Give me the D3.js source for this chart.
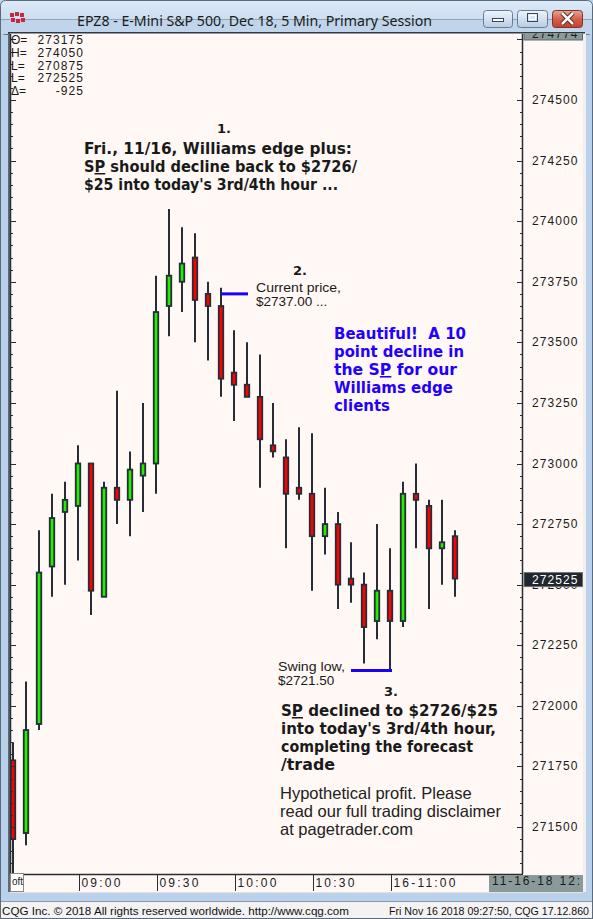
<!DOCTYPE html>
<html><head><meta charset="utf-8">
<script src="https://cdn.jsdelivr.net/npm/d3@7"></script>
<style>html,body{margin:0;padding:0;background:#b9d1ea;}svg{display:block;}</style>
</head><body>
<script>
// ---- data ----
const times = ["08:35","08:40","08:45","08:50","08:55","09:00","09:05","09:10","09:15","09:20","09:25","09:30","09:35","09:40","09:45","09:50","09:55","10:00","10:05","10:10","10:15","10:20","10:25","10:30","10:35","10:40","10:45","10:50","10:55","11:00","11:05","11:10","11:15","11:20","11:25"];
const opens  = [271775,271475,271925,272575,272800,272825,273000,272450,272900,272850,272950,273000,273650,273750,273850,273700,273650,273375,273325,273275,273075,273025,272900,272875,272700,272750,272525,272500,272350,272475,272350,272875,272825,272650,272700];
const highs  = [271850,272100,272725,272875,272925,273075,273000,272925,273300,273050,273250,273775,274050,273975,273950,273750,273725,273550,273500,273450,273250,273100,273150,273125,272900,272800,272675,272550,272750,272650,272925,273000,272850,272850,272725];
const lows   = [271250,271425,271900,272450,272500,272600,272375,272450,272750,272700,272800,272875,273525,273625,273500,273425,273275,273175,273275,272900,273025,272650,272850,272475,272625,272400,272425,272175,272275,272150,272325,272650,272400,272500,272450];
const closes = [271450,271900,272550,272775,272850,273000,272475,272900,272850,272975,273000,273625,273775,273825,273675,273650,273350,273325,273275,273100,273050,272875,272875,272700,272750,272500,272500,272325,272475,272350,272875,272850,272650,272675,272525];
const yTickLabels = [271500,271750,272000,272250,272500,272750,273000,273250,273500,273750,274000,274250,274500];
const xTickTimes  = ["09:00","09:30","10:00","10:30","11:00"];
const xTickLabels = ["09:00","09:30","10:00","10:30","16-11:00"];
const infoLabels = ["O=","H=","L=","L=","\u0394="];
const infoValues = ["273175","274050","270875","272525","-925"];
const lastPrice = 272525, topPrice = "274774";
const currentPrice = 273700, swingLow = 272150;

const W = 593, H = 919;
const svg = d3.select("body").append("svg").attr("width", W).attr("height", H);
const defs = svg.append("defs");

const x = d3.scalePoint().domain(times).range([13, 455]);
const y = d3.scaleLinear().domain([271500, 274500]).range([827, 100]);

const plot = {l: 10, r: 523, t: 34, b: 874};

// ---- window chrome ----
const tg = defs.append("linearGradient").attr("id","tg").attr("x1",0).attr("y1",0).attr("x2",0).attr("y2",1);
tg.append("stop").attr("offset","0").attr("stop-color","#dce9f7");
tg.append("stop").attr("offset","1").attr("stop-color","#c0d5ec");
svg.append("rect").attr("x",0).attr("y",0).attr("width",W).attr("height",H).attr("fill","#b9d1ea");
svg.append("rect").attr("x",0.5).attr("y",0.5).attr("width",W-1).attr("height",34).attr("rx",5).attr("fill","url(#tg)").attr("stroke","#5b6b7c");
svg.append("rect").attr("x",0.5).attr("y",20).attr("width",W-1).attr("height",H-20.5).attr("fill","none").attr("stroke","#5b6b7c");
svg.append("rect").attr("x",1).attr("y",20).attr("width",W-2).attr("height",14).attr("fill","#c0d5ec");

// icon
const icon = svg.append("g").attr("transform","translate(10,12)");
[[0,1],[5,0],[10,1],[1,6],[6,7],[11,6]].forEach(p=>icon.append("rect").attr("x",p[0]).attr("y",p[1]).attr("width",4).attr("height",4).attr("fill","#c8283c"));
svg.append("text").attr("x",77).attr("y",26).attr("font-family","Noto Sans").attr("font-size",15)
  .attr("fill","#1b1b1b").attr("textLength",355).attr("lengthAdjust","spacingAndGlyphs")
  .text("EPZ8 - E-Mini S&P 500, Dec 18, 5 Min, Primary Session");

const bg = defs.append("linearGradient").attr("id","bg").attr("x1",0).attr("y1",0).attr("x2",0).attr("y2",1);
bg.append("stop").attr("offset","0").attr("stop-color","#eef4fb");
bg.append("stop").attr("offset","0.5").attr("stop-color","#d3e1f1");
bg.append("stop").attr("offset","1").attr("stop-color","#b6cbe4");
const cg = defs.append("linearGradient").attr("id","cg").attr("x1",0).attr("y1",0).attr("x2",0).attr("y2",1);
cg.append("stop").attr("offset","0").attr("stop-color","#e9a796");
cg.append("stop").attr("offset","0.5").attr("stop-color","#d6604c");
cg.append("stop").attr("offset","1").attr("stop-color","#c0422e");
svg.append("rect").attr("x",483.5).attr("y",10.5).attr("width",29).attr("height",17).attr("rx",3).attr("fill","url(#bg)").attr("stroke","#6a7c92");
svg.append("rect").attr("x",517.5).attr("y",10.5).attr("width",30).attr("height",17).attr("rx",3).attr("fill","url(#bg)").attr("stroke","#6a7c92");
svg.append("rect").attr("x",552.5).attr("y",10.5).attr("width",30).attr("height",17).attr("rx",3).attr("fill","url(#cg)").attr("stroke","#7e3528");
svg.append("rect").attr("x",492.5).attr("y",18.5).attr("width",11).attr("height",3).attr("fill","#fff").attr("stroke","#3a4656");
svg.append("rect").attr("x",527.5).attr("y",13.5).attr("width",10).attr("height",8).attr("fill","none").attr("stroke","#3a4656").attr("stroke-width",1);
svg.append("rect").attr("x",529.5).attr("y",15.5).attr("width",6).attr("height",4).attr("fill","none").attr("stroke","#fff");
svg.append("path").attr("d","M562,13 L573,24 M573,13 L562,24").attr("stroke","#4a2018").attr("stroke-width",4.5);
svg.append("path").attr("d","M562,13 L573,24 M573,13 L562,24").attr("stroke","#ffffff").attr("stroke-width",2.5);

// panel
svg.append("rect").attr("x",8).attr("y",33).attr("width",577).attr("height",859).attr("fill","#fff8f5");
svg.append("rect").attr("x",583).attr("y",33).attr("width",3).attr("height",859).attr("fill","#f2eeee");
svg.append("rect").attr("x",8).attr("y",33).attr("width",2).attr("height",859).attr("fill","#5f6a75");
svg.append("rect").attr("x",8).attr("y",32).attr("width",577).attr("height",1.5).attr("fill","#2d3945");

// status bar
svg.append("rect").attr("x",1).attr("y",901).attr("width",W-2).attr("height",17).attr("fill","#f3f3f3");
svg.append("line").attr("x1",1).attr("x2",W-1).attr("y1",901.5).attr("y2",901.5).attr("stroke","#8c9aa8");
svg.append("text").attr("x",2).attr("y",915).attr("font-family","Liberation Sans").attr("font-size",11.2).attr("fill","#111")
  .attr("textLength",347).attr("lengthAdjust","spacingAndGlyphs")
  .text("CQG Inc. \u00a9 2018 All rights reserved worldwide. http://www.cqg.com");
svg.append("text").attr("x",389).attr("y",915).attr("font-family","Liberation Sans").attr("font-size",10.8).attr("fill","#111")
  .attr("textLength",200).attr("lengthAdjust","spacingAndGlyphs")
  .text("Fri Nov 16 2018 09:27:50, CQG 17.12.860");

// ---- candles ----
defs.append("clipPath").attr("id","pc").append("rect").attr("x",plot.l+1).attr("y",plot.t).attr("width",plot.r-plot.l-1).attr("height",plot.b-plot.t);
const cs = svg.append("g").attr("clip-path","url(#pc)");
const dark = "#262d36";
const bars = times.map((t,i)=>({t, o:opens[i], h:highs[i], l:lows[i], c:closes[i]}));
cs.selectAll("line.wick").data(bars).enter().append("line")
  .attr("x1",d=>x(d.t)).attr("x2",d=>x(d.t)).attr("y1",d=>y(d.h)).attr("y2",d=>y(d.l))
  .attr("stroke",dark).attr("stroke-width",2);
cs.selectAll("rect.body").data(bars).enter().append("rect")
  .attr("x",d=>x(d.t)-2.25).attr("width",4.5)
  .attr("y",d=>y(Math.max(d.o,d.c))).attr("height",d=>Math.max(1,y(Math.min(d.o,d.c))-y(Math.max(d.o,d.c))))
  .attr("fill",d=>d.c>=d.o?"#22ee00":"#ff0000").attr("stroke",dark).attr("stroke-width",1.8);

// ---- axes ----
const ax = svg.append("g");
ax.append("line").attr("x1",plot.r-0.5).attr("x2",plot.r-0.5).attr("y1",plot.t).attr("y2",plot.b).attr("stroke",dark).attr("stroke-width",1.5);
ax.append("line").attr("x1",plot.l+0.5).attr("x2",plot.l+0.5).attr("y1",plot.t).attr("y2",plot.b).attr("stroke",dark).attr("stroke-width",1.5);
ax.append("line").attr("x1",plot.l).attr("x2",plot.r).attr("y1",plot.b+0.5).attr("y2",plot.b+0.5).attr("stroke",dark).attr("stroke-width",1.5);
const minor = d3.range(271300, 274800, 50).filter(v=>y(v)>plot.t && y(v)<plot.b);
minor.forEach(v=>{
  const major = v % 250 === 0;
  const yy = Math.round(y(v))+0.5;
  ax.append("line").attr("x1",plot.r-(major?6:3)).attr("x2",plot.r).attr("y1",yy).attr("y2",yy).attr("stroke",dark);
  ax.append("line").attr("x1",plot.l).attr("x2",plot.l+(major?6:3)).attr("y1",yy).attr("y2",yy).attr("stroke",dark);
});
const axisFont = {"font-family":"Liberation Sans","font-size":12,"fill":"#1a1a1a","letter-spacing":1.1};
function sty(sel, o){ for(const k in o) sel.attr(k,o[k]); return sel; }
const lp = y(lastPrice);
// labels; the one hidden behind the last-price box only shows its lower part
defs.append("clipPath").attr("id","lpc").append("rect").attr("x",523).attr("y",lp+8).attr("width",60).attr("height",10);
yTickLabels.forEach(v=>{
  const t = sty(ax.append("text"),axisFont).attr("x",532).attr("y",y(v)+4).text(v);
  if (Math.abs(y(v)-lp) < 12) t.attr("clip-path","url(#lpc)");
});
// top clipped label
defs.append("clipPath").attr("id","topc").append("rect").attr("x",523).attr("y",33.5).attr("width",60).attr("height",8);
const tb = svg.append("g").attr("clip-path","url(#topc)");
tb.append("rect").attr("x",524).attr("y",28).attr("width",58.5).attr("height",12).attr("fill","#8a9a98").attr("stroke","#5c6a6a");
sty(tb.append("text"),axisFont).attr("x",532).attr("y",37.5).text(topPrice);
// last price box
svg.append("rect").attr("x",524).attr("y",lp-6).attr("width",58.5).attr("height",14).attr("fill","#1f262d").attr("stroke","#6a7070");
sty(svg.append("text"),axisFont).attr("x",532).attr("y",lp+5).attr("fill","#ffffff").text(lastPrice);

// x axis
xTickTimes.forEach((t,i)=>{
  const xx = Math.round(x(t))+1.5;
  ax.append("line").attr("x1",xx).attr("x2",xx).attr("y1",plot.b).attr("y2",891).attr("stroke",dark);
  sty(ax.append("text"),axisFont).attr("letter-spacing",2.2).attr("x",xx+2).attr("y",887).text(xTickLabels[i]);
});
svg.append("rect").attr("x",10.5).attr("y",873.5).attr("width",13).attr("height",18).attr("fill","#ffffff").attr("stroke","#8a8a8a");
svg.append("text").attr("x",12).attr("y",885).attr("font-family","Liberation Sans").attr("font-size",10).attr("fill","#222").text("oft");
svg.append("rect").attr("x",489).attr("y",875).attr("width",94).attr("height",17).attr("fill","#8a9a98");
sty(svg.append("text"),axisFont).attr("letter-spacing",1.9).attr("x",492).attr("y",885).text("11-16-18 12:");
svg.append("line").attr("x1",10).attr("x2",583).attr("y1",892.5).attr("y2",892.5).attr("stroke","#e6e2e2");

// info box
infoLabels.forEach((lab,i)=>{
  const yy = 44 + i*12.75;
  sty(svg.append("text"),axisFont).attr("letter-spacing",0).attr("x",11).attr("y",yy).text(lab);
  sty(svg.append("text"),axisFont).attr("x",83+1.1).attr("text-anchor","end").attr("y",yy).text(infoValues[i]);
});

// ---- annotations ----
const ann = svg.append("g");
const boldF = "DejaVu Sans";
function txt(xp, yp, size, weight, color, family, len){
  const t = ann.append("text").attr("x",xp).attr("y",yp).attr("font-size",size).attr("font-weight",weight)
    .attr("fill",color).attr("font-family",family);
  if (len) t.attr("textLength",len).attr("lengthAdjust","spacingAndGlyphs");
  return t;
}
function spLine(sel, before, after){
  sel.append("tspan").text(before + "S");
  sel.append("tspan").attr("text-decoration","underline").text("P");
  sel.append("tspan").text(after);
}
const blk = "#1a1a1a";
txt(217,133,13,"bold",blk,boldF).text("1.");
txt(84,154,15,"bold",blk,boldF,268).text("Fri., 11/16, Williams edge plus:");
spLine(txt(84,172,15,"bold",blk,boldF,273), "", " should decline back to $2726/");
txt(84,190,15,"bold",blk,boldF,254).text("$25 into today's 3rd/4th hour ...");

txt(293,275,13,"bold",blk,boldF).text("2.");
txt(256,292,13.5,"normal",blk,"Liberation Sans",85).text("Current price,");
txt(256,306,13.5,"normal",blk,"Liberation Sans").text("$2737.00 ...");
ann.append("line").attr("x1",x(times[16])).attr("x2",x(times[18])+1).attr("y1",y(currentPrice)).attr("y2",y(currentPrice))
  .attr("stroke","#1a00ff").attr("stroke-width",3);

const blue = "#2200ff";
txt(334,339,15.5,"bold",blue,boldF,132).text("Beautiful!\u00a0 A 10");
txt(334,357,15.5,"bold",blue,boldF,130).text("point decline in");
spLine(txt(334,375,15.5,"bold",blue,boldF,123), "the ", " for our");
txt(334,393,15.5,"bold",blue,boldF,119).text("Williams edge");
txt(334,411,15.5,"bold",blue,boldF,56).text("clients");

txt(278,671,13.5,"normal",blk,"Liberation Sans",67).text("Swing low,");
txt(278,685,13.5,"normal",blk,"Liberation Sans").text("$2721.50");
ann.append("line").attr("x1",x(times[26])).attr("x2",x(times[29])+2).attr("y1",y(swingLow)+1).attr("y2",y(swingLow)+1)
  .attr("stroke","#1a00ff").attr("stroke-width",3);

txt(384,696,13,"bold",blk,boldF).text("3.");
spLine(txt(281,716,15,"bold",blk,boldF,217), "", " declined to $2726/$25");
txt(281,734,15,"bold",blk,boldF,215).text("into today's 3rd/4th hour,");
txt(281,752,15,"bold",blk,boldF,192).text("completing the forecast");
txt(281,770,15,"bold",blk,boldF,54).text("/trade");

txt(280,799,16.5,"normal","#222","Liberation Sans").text("Hypothetical profit. Please");
txt(280,817,16.5,"normal","#222","Liberation Sans").text("read our full trading disclaimer");
txt(280,835,16.5,"normal","#222","Liberation Sans").text("at pagetrader.com");
</script>
</body></html>
